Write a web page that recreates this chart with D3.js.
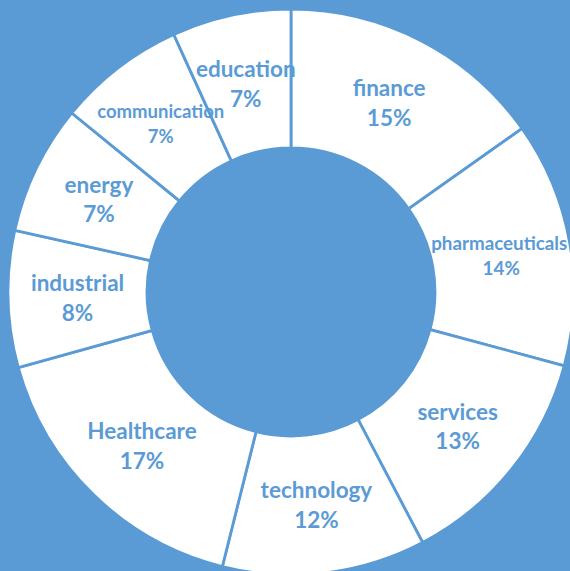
<!DOCTYPE html>
<html>
<head>
<meta charset="utf-8">
<script src="https://cdn.jsdelivr.net/npm/d3@7"></script>
<style>
    html, body { margin: 0; padding: 0; background: #5B9BD5; }
    #chart { width: 570px; height: 571px; overflow: hidden; }
</style>
</head>
<body>
<div id="chart"></div>
<script>
// Sector shares, clockwise from 12 o'clock
const categories = ['finance', 'pharmaceuticals', 'services', 'technology', 'Healthcare',
    'industrial', 'energy', 'communication', 'education'];
const values = [15.2, 14.0, 13.1, 11.6, 16.8, 7.8, 7.4, 7.3, 6.8];

// Label styling (a few labels are set smaller)
const labelFont = { default: 22.5, pharmaceuticals: 18.8, communication: 18.5 };
const blue = '#5B9BD5';

const width = 570, height = 571;
const cx = 291, cy = 292;
const outerR = 283, innerR = 144;

const svg = d3.select('#chart')
    .append('svg')
    .attr('width', width)
    .attr('height', height);

svg.append('rect')
    .attr('width', width)
    .attr('height', height)
    .attr('fill', blue);

const data = categories.map((c, i) => ({ name: c, value: values[i] }));
const total = d3.sum(values);

const pie = d3.pie()
    .sort(null)
    .value(d => d.value);

const arc = d3.arc()
    .innerRadius(innerR)
    .outerRadius(outerR);

const g = svg.append('g')
    .attr('transform', `translate(${cx},${cy})`);

const arcs = pie(data);

// Slices
g.selectAll('path')
    .data(arcs)
    .enter().append('path')
    .attr('d', arc)
    .attr('fill', '#fff')
    .attr('stroke', blue)
    .attr('stroke-width', 2.8);

// Labels at the centroid: name + percent
const labels = g.selectAll('text')
    .data(arcs)
    .enter().append('text')
    .attr('text-anchor', 'middle')
    .attr('font-family', 'Lato, "Open Sans", sans-serif')
    .attr('font-weight', 'bold')
    .attr('fill', blue)
    .attr('font-size', d => (labelFont[d.data.name] || labelFont.default) + 'px')
    .attr('transform', d => `translate(${arc.centroid(d)})`);

labels.each(function(d) {
    const size = labelFont[d.data.name] || labelFont.default;
    const gap = size * 1.32;
    const t = d3.select(this);
    t.append('tspan')
        .attr('x', d.data.name === 'pharmaceuticals' ? -2 : 0)
        .attr('y', -gap / 2 + 1)
        .attr('dy', '0.35em')
        .text(d.data.name);
    t.append('tspan')
        .attr('x', 0)
        .attr('y', gap / 2 + 1)
        .attr('dy', '0.35em')
        .text(Math.round(d.data.value / total * 100) + '%');
});
</script>
</body>
</html>
